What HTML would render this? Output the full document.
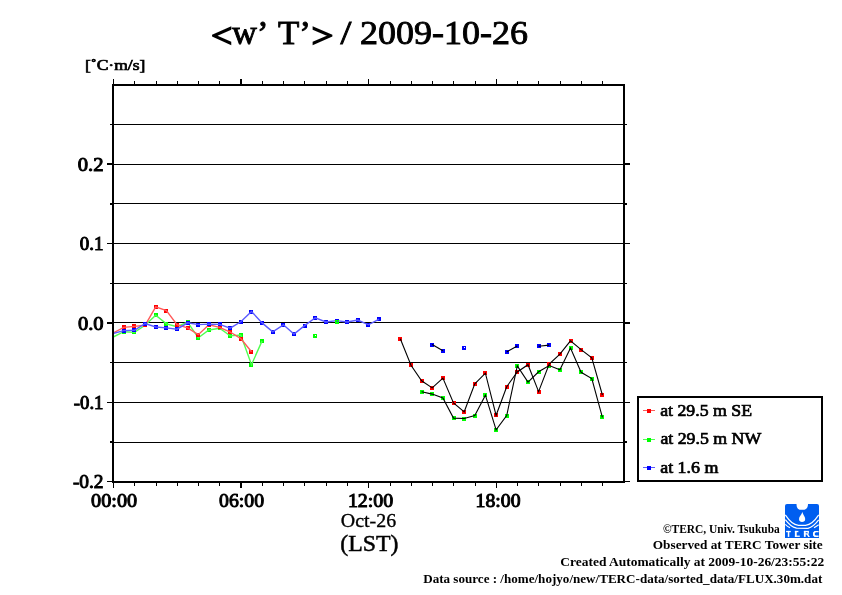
<!DOCTYPE html>
<html><head><meta charset="utf-8"><style>
html,body{margin:0;padding:0;background:#fff;}
svg{display:block;will-change:transform}
</style></head><body>
<svg width="842" height="595" viewBox="0 0 842 595" shape-rendering="crispEdges">
<defs><clipPath id="plot"><rect x="114" y="86" width="509" height="395"/></clipPath></defs>
<rect width="842" height="595" fill="#fff"/>
<rect x="114" y="124" width="509" height="1" fill="#000"/>
<rect x="114" y="164" width="509" height="1" fill="#000"/>
<rect x="114" y="203" width="509" height="1" fill="#000"/>
<rect x="114" y="243" width="509" height="1" fill="#000"/>
<rect x="114" y="283" width="509" height="1" fill="#000"/>
<rect x="114" y="322" width="509" height="1" fill="#000"/>
<rect x="114" y="362" width="509" height="1" fill="#000"/>
<rect x="114" y="402" width="509" height="1" fill="#000"/>
<rect x="114" y="442" width="509" height="1" fill="#000"/>
<rect x="110" y="124" width="2" height="1" fill="#000"/>
<rect x="625" y="124" width="2" height="1" fill="#000"/>
<rect x="107" y="163" width="5" height="2" fill="#000"/>
<rect x="625" y="163" width="5" height="2" fill="#000"/>
<rect x="110" y="203" width="2" height="2" fill="#000"/>
<rect x="625" y="203" width="2" height="2" fill="#000"/>
<rect x="107" y="243" width="5" height="1" fill="#000"/>
<rect x="625" y="243" width="5" height="1" fill="#000"/>
<rect x="110" y="283" width="2" height="1" fill="#000"/>
<rect x="625" y="283" width="2" height="1" fill="#000"/>
<rect x="107" y="322" width="5" height="2" fill="#000"/>
<rect x="625" y="322" width="5" height="2" fill="#000"/>
<rect x="110" y="362" width="2" height="1" fill="#000"/>
<rect x="625" y="362" width="2" height="1" fill="#000"/>
<rect x="107" y="402" width="5" height="1" fill="#000"/>
<rect x="625" y="402" width="5" height="1" fill="#000"/>
<rect x="110" y="441" width="2" height="2" fill="#000"/>
<rect x="625" y="441" width="2" height="2" fill="#000"/>
<rect x="107" y="481" width="5" height="1" fill="#000"/>
<rect x="625" y="481" width="5" height="1" fill="#000"/>
<rect x="113" y="79" width="1" height="5" fill="#000"/>
<rect x="113" y="483" width="1" height="5" fill="#000"/>
<rect x="134" y="81" width="1" height="3" fill="#000"/>
<rect x="134" y="483" width="1" height="3" fill="#000"/>
<rect x="156" y="81" width="1" height="3" fill="#000"/>
<rect x="156" y="483" width="1" height="3" fill="#000"/>
<rect x="177" y="81" width="1" height="3" fill="#000"/>
<rect x="177" y="483" width="1" height="3" fill="#000"/>
<rect x="198" y="81" width="1" height="3" fill="#000"/>
<rect x="198" y="483" width="1" height="3" fill="#000"/>
<rect x="219" y="81" width="1" height="3" fill="#000"/>
<rect x="219" y="483" width="1" height="3" fill="#000"/>
<rect x="240" y="79" width="2" height="5" fill="#000"/>
<rect x="240" y="483" width="2" height="5" fill="#000"/>
<rect x="262" y="81" width="1" height="3" fill="#000"/>
<rect x="262" y="483" width="1" height="3" fill="#000"/>
<rect x="283" y="81" width="1" height="3" fill="#000"/>
<rect x="283" y="483" width="1" height="3" fill="#000"/>
<rect x="304" y="81" width="1" height="3" fill="#000"/>
<rect x="304" y="483" width="1" height="3" fill="#000"/>
<rect x="326" y="81" width="1" height="3" fill="#000"/>
<rect x="326" y="483" width="1" height="3" fill="#000"/>
<rect x="347" y="81" width="1" height="3" fill="#000"/>
<rect x="347" y="483" width="1" height="3" fill="#000"/>
<rect x="368" y="79" width="1" height="5" fill="#000"/>
<rect x="368" y="483" width="1" height="5" fill="#000"/>
<rect x="390" y="81" width="1" height="3" fill="#000"/>
<rect x="390" y="483" width="1" height="3" fill="#000"/>
<rect x="411" y="81" width="1" height="3" fill="#000"/>
<rect x="411" y="483" width="1" height="3" fill="#000"/>
<rect x="432" y="81" width="1" height="3" fill="#000"/>
<rect x="432" y="483" width="1" height="3" fill="#000"/>
<rect x="453" y="81" width="1" height="3" fill="#000"/>
<rect x="453" y="483" width="1" height="3" fill="#000"/>
<rect x="475" y="81" width="1" height="3" fill="#000"/>
<rect x="475" y="483" width="1" height="3" fill="#000"/>
<rect x="496" y="79" width="1" height="5" fill="#000"/>
<rect x="496" y="483" width="1" height="5" fill="#000"/>
<rect x="517" y="81" width="1" height="3" fill="#000"/>
<rect x="517" y="483" width="1" height="3" fill="#000"/>
<rect x="538" y="81" width="1" height="3" fill="#000"/>
<rect x="538" y="483" width="1" height="3" fill="#000"/>
<rect x="560" y="81" width="1" height="3" fill="#000"/>
<rect x="560" y="483" width="1" height="3" fill="#000"/>
<rect x="581" y="81" width="1" height="3" fill="#000"/>
<rect x="581" y="483" width="1" height="3" fill="#000"/>
<rect x="602" y="81" width="1" height="3" fill="#000"/>
<rect x="602" y="483" width="1" height="3" fill="#000"/>
<g shape-rendering="auto">
<g clip-path="url(#plot)">
<rect x="122" y="330" width="4" height="4" fill="#00ff00"/>
<rect x="132" y="330" width="4" height="4" fill="#00ff00"/>
<rect x="143" y="323" width="4" height="4" fill="#00ff00"/>
<rect x="154" y="313" width="4" height="4" fill="#00ff00"/>
<rect x="164" y="322" width="4" height="4" fill="#00ff00"/>
<rect x="175" y="325" width="4" height="4" fill="#00ff00"/>
<rect x="186" y="320" width="4" height="4" fill="#00ff00"/>
<rect x="196" y="336" width="4" height="4" fill="#00ff00"/>
<rect x="207" y="328" width="4" height="4" fill="#00ff00"/>
<rect x="218" y="326" width="4" height="4" fill="#00ff00"/>
<rect x="228" y="334" width="4" height="4" fill="#00ff00"/>
<rect x="239" y="333" width="4" height="4" fill="#00ff00"/>
<rect x="249" y="363" width="4" height="4" fill="#00ff00"/>
<rect x="260" y="339" width="4" height="4" fill="#00ff00"/>
<polyline points="113.2,337.0 123.8,331.7 134.5,332.4 145.1,325.3 155.7,315.3 166.4,323.9 177.0,326.7 187.6,322.1 198.3,337.8 208.9,330.0 219.6,328.2 230.2,335.9 240.8,335.0 251.5,364.7 262.1,340.9" fill="none" stroke="#50ff50" stroke-width="1.4"/>
<rect x="122" y="325" width="4" height="4" fill="#ff0000"/>
<rect x="132" y="324" width="4" height="4" fill="#ff0000"/>
<rect x="143" y="323" width="4" height="4" fill="#ff0000"/>
<rect x="154" y="305" width="4" height="4" fill="#ff0000"/>
<rect x="164" y="309" width="4" height="4" fill="#ff0000"/>
<rect x="175" y="323" width="4" height="4" fill="#ff0000"/>
<rect x="186" y="326" width="4" height="4" fill="#ff0000"/>
<rect x="196" y="333" width="4" height="4" fill="#ff0000"/>
<rect x="207" y="323" width="4" height="4" fill="#ff0000"/>
<rect x="218" y="325" width="4" height="4" fill="#ff0000"/>
<rect x="228" y="330" width="4" height="4" fill="#ff0000"/>
<rect x="239" y="337" width="4" height="4" fill="#ff0000"/>
<rect x="249" y="350" width="4" height="4" fill="#ff0000"/>
<polyline points="113.2,333.0 123.8,327.4 134.5,326.4 145.1,325.3 155.7,306.8 166.4,310.7 177.0,324.6 187.6,327.9 198.3,334.7 208.9,324.7 219.6,327.3 230.2,332.0 240.8,338.6 251.5,351.8" fill="none" stroke="#ff5a5a" stroke-width="1.4"/>
<rect x="122" y="329" width="4" height="4" fill="#0000ff"/>
<rect x="132" y="328" width="4" height="4" fill="#0000ff"/>
<rect x="143" y="322" width="4" height="4" fill="#0000ff"/>
<rect x="154" y="325" width="4" height="4" fill="#0000ff"/>
<rect x="164" y="326" width="4" height="4" fill="#0000ff"/>
<rect x="175" y="327" width="4" height="4" fill="#0000ff"/>
<rect x="186" y="321" width="4" height="4" fill="#0000ff"/>
<rect x="196" y="323" width="4" height="4" fill="#0000ff"/>
<rect x="207" y="322" width="4" height="4" fill="#0000ff"/>
<rect x="218" y="322" width="4" height="4" fill="#0000ff"/>
<rect x="228" y="326" width="4" height="4" fill="#0000ff"/>
<rect x="239" y="320" width="4" height="4" fill="#0000ff"/>
<rect x="249" y="310" width="4" height="4" fill="#0000ff"/>
<rect x="260" y="321" width="4" height="4" fill="#0000ff"/>
<rect x="271" y="330" width="4" height="4" fill="#0000ff"/>
<rect x="281" y="323" width="4" height="4" fill="#0000ff"/>
<rect x="292" y="332" width="4" height="4" fill="#0000ff"/>
<rect x="303" y="324" width="4" height="4" fill="#0000ff"/>
<rect x="313" y="316" width="4" height="4" fill="#0000ff"/>
<rect x="324" y="320" width="4" height="4" fill="#0000ff"/>
<rect x="335" y="319" width="4" height="4" fill="#0000ff"/>
<rect x="345" y="320" width="4" height="4" fill="#0000ff"/>
<rect x="356" y="318" width="4" height="4" fill="#0000ff"/>
<rect x="366" y="323" width="4" height="4" fill="#0000ff"/>
<rect x="377" y="317" width="4" height="4" fill="#0000ff"/>
<polyline points="113.2,333.4 123.8,330.6 134.5,330.3 145.1,323.5 155.7,327.0 166.4,327.9 177.0,329.2 187.6,322.8 198.3,324.6 208.9,324.1 219.6,324.4 230.2,328.2 240.8,321.8 251.5,311.5 262.1,322.9 272.7,331.8 283.4,324.8 294.0,334.0 304.6,325.6 315.3,317.8 325.9,322.0 336.5,320.6 347.2,322.0 357.8,320.0 368.4,324.8 379.1,319.2" fill="none" stroke="#5a5aff" stroke-width="1.4"/>
<path d="M313 334h4v4h-4z M315 335h1v1h-1z" fill="#00ff00" fill-rule="evenodd"/>
<path d="M335 320h4v4h-4z M337 321h1v1h-1z" fill="#00ff00" fill-rule="evenodd"/>
<rect x="420" y="390" width="4" height="4" fill="#00ff00"/>
<rect x="430" y="392" width="4" height="4" fill="#00ff00"/>
<rect x="441" y="396" width="4" height="4" fill="#00ff00"/>
<rect x="452" y="416" width="4" height="4" fill="#00ff00"/>
<rect x="462" y="417" width="4" height="4" fill="#00ff00"/>
<rect x="473" y="414" width="4" height="4" fill="#00ff00"/>
<rect x="483" y="393" width="4" height="4" fill="#00ff00"/>
<rect x="494" y="428" width="4" height="4" fill="#00ff00"/>
<rect x="505" y="414" width="4" height="4" fill="#00ff00"/>
<rect x="515" y="364" width="4" height="4" fill="#00ff00"/>
<rect x="526" y="380" width="4" height="4" fill="#00ff00"/>
<rect x="537" y="370" width="4" height="4" fill="#00ff00"/>
<rect x="547" y="364" width="4" height="4" fill="#00ff00"/>
<rect x="558" y="368" width="4" height="4" fill="#00ff00"/>
<rect x="569" y="346" width="4" height="4" fill="#00ff00"/>
<rect x="579" y="370" width="4" height="4" fill="#00ff00"/>
<rect x="590" y="377" width="4" height="4" fill="#00ff00"/>
<rect x="600" y="415" width="4" height="4" fill="#00ff00"/>
<rect x="398" y="337" width="4" height="4" fill="#ff0000"/>
<rect x="409" y="363" width="4" height="4" fill="#ff0000"/>
<rect x="420" y="379" width="4" height="4" fill="#ff0000"/>
<rect x="430" y="386" width="4" height="4" fill="#ff0000"/>
<rect x="441" y="376" width="4" height="4" fill="#ff0000"/>
<rect x="452" y="401" width="4" height="4" fill="#ff0000"/>
<rect x="462" y="410" width="4" height="4" fill="#ff0000"/>
<rect x="473" y="382" width="4" height="4" fill="#ff0000"/>
<rect x="483" y="371" width="4" height="4" fill="#ff0000"/>
<rect x="494" y="413" width="4" height="4" fill="#ff0000"/>
<rect x="505" y="385" width="4" height="4" fill="#ff0000"/>
<rect x="515" y="370" width="4" height="4" fill="#ff0000"/>
<rect x="526" y="363" width="4" height="4" fill="#ff0000"/>
<rect x="537" y="390" width="4" height="4" fill="#ff0000"/>
<rect x="547" y="362" width="4" height="4" fill="#ff0000"/>
<rect x="558" y="352" width="4" height="4" fill="#ff0000"/>
<rect x="569" y="339" width="4" height="4" fill="#ff0000"/>
<rect x="579" y="348" width="4" height="4" fill="#ff0000"/>
<rect x="590" y="356" width="4" height="4" fill="#ff0000"/>
<rect x="600" y="393" width="4" height="4" fill="#ff0000"/>
<rect x="430" y="343" width="4" height="4" fill="#0000ff"/>
<rect x="441" y="349" width="4" height="4" fill="#0000ff"/>
<path d="M462 346h4v4h-4z M464 347h1v1h-1z" fill="#0000ff" fill-rule="evenodd"/>
<rect x="505" y="350" width="4" height="4" fill="#0000ff"/>
<rect x="515" y="344" width="4" height="4" fill="#0000ff"/>
<rect x="537" y="344" width="4" height="4" fill="#0000ff"/>
<rect x="547" y="343" width="4" height="4" fill="#0000ff"/>
<polyline points="400.3,338.8 411.0,365.3 421.6,380.8 432.2,387.9 442.9,378.1 453.5,403.0 464.2,411.8 474.8,383.8 485.4,373.2 496.1,415.3 506.7,386.7 517.3,372.0 528.0,364.7 538.6,391.6 549.2,364.0 559.9,354.2 570.5,340.9 581.1,349.6 591.8,357.9 602.4,395.0" fill="none" stroke="#000" stroke-width="1.1"/>
<polyline points="421.6,391.8 432.2,394.1 442.9,398.0 453.5,418.1 464.2,418.5 474.8,415.6 485.4,395.2 496.1,429.8 506.7,415.5 517.3,366.0 528.0,382.1 538.6,371.8 549.2,365.5 559.9,369.8 570.5,348.1 581.1,372.3 591.8,378.6 602.4,417.3" fill="none" stroke="#000" stroke-width="1.1"/>
<polyline points="432.2,344.5 442.9,350.7" fill="none" stroke="#000" stroke-width="1.1"/>
<polyline points="506.7,351.9 517.3,345.9" fill="none" stroke="#000" stroke-width="1.1"/>
<polyline points="538.6,346.3 549.2,345.1" fill="none" stroke="#000" stroke-width="1.1"/>
</g>
</g>
<rect x="112" y="84" width="513" height="2" fill="#000"/>
<rect x="112" y="481" width="513" height="2" fill="#000"/>
<rect x="112" y="84" width="2" height="399" fill="#000"/>
<rect x="623" y="84" width="2" height="399" fill="#000"/>
<g shape-rendering="auto">
<text x="211.00" y="47.30" font-family="Liberation Serif, serif" font-size="34.00" font-weight="normal" textLength="21.29" lengthAdjust="spacingAndGlyphs" stroke="#000" stroke-width="1.5">&lt;</text>
<text x="232.00" y="44.20" font-family="Liberation Serif, serif" font-size="34.00" font-weight="normal" textLength="36.38" lengthAdjust="spacingAndGlyphs" stroke="#000" stroke-width="0.9">w&#8217;</text>
<text x="278.00" y="44.20" font-family="Liberation Serif, serif" font-size="34.00" font-weight="normal" textLength="32.96" lengthAdjust="spacingAndGlyphs" stroke="#000" stroke-width="0.9">T&#8217;</text>
<text x="311.50" y="47.30" font-family="Liberation Serif, serif" font-size="34.00" font-weight="normal" textLength="21.90" lengthAdjust="spacingAndGlyphs" stroke="#000" stroke-width="1.5">&gt;</text>
<text x="340.50" y="44.20" font-family="Liberation Serif, serif" font-size="34.00" font-weight="normal" textLength="10.86" lengthAdjust="spacingAndGlyphs" stroke="#000" stroke-width="0.9">/</text>
<text x="360.00" y="44.20" font-family="Liberation Serif, serif" font-size="34.00" font-weight="normal" textLength="168.06" lengthAdjust="spacingAndGlyphs" stroke="#000" stroke-width="0.9">2009-10-26</text>
<text x="85.00" y="70.00" font-family="Liberation Serif, serif" font-size="15.00" font-weight="normal" textLength="60.36" lengthAdjust="spacingAndGlyphs" stroke="#000" stroke-width="0.7">[&#730;C&#183;m/s]</text>
<text x="77.80" y="170.70" font-family="Liberation Serif, serif" font-size="18.30" font-weight="normal" textLength="25.79" lengthAdjust="spacingAndGlyphs" stroke="#000" stroke-width="0.95">0.2</text>
<text x="79.80" y="249.80" font-family="Liberation Serif, serif" font-size="18.30" font-weight="normal" textLength="23.70" lengthAdjust="spacingAndGlyphs" stroke="#000" stroke-width="0.95">0.1</text>
<text x="77.90" y="329.60" font-family="Liberation Serif, serif" font-size="18.30" font-weight="normal" textLength="25.71" lengthAdjust="spacingAndGlyphs" stroke="#000" stroke-width="0.95">0.0</text>
<text x="73.80" y="408.60" font-family="Liberation Serif, serif" font-size="18.30" font-weight="normal" textLength="29.65" lengthAdjust="spacingAndGlyphs" stroke="#000" stroke-width="0.95">-0.1</text>
<text x="72.90" y="487.60" font-family="Liberation Serif, serif" font-size="18.30" font-weight="normal" textLength="30.67" lengthAdjust="spacingAndGlyphs" stroke="#000" stroke-width="0.95">-0.2</text>
<text x="91.10" y="506.60" font-family="Liberation Serif, serif" font-size="18.30" font-weight="normal" textLength="46.00" lengthAdjust="spacingAndGlyphs" stroke="#000" stroke-width="0.95">00:00</text>
<text x="219.10" y="506.60" font-family="Liberation Serif, serif" font-size="18.30" font-weight="normal" textLength="45.01" lengthAdjust="spacingAndGlyphs" stroke="#000" stroke-width="0.95">06:00</text>
<text x="347.90" y="506.60" font-family="Liberation Serif, serif" font-size="18.30" font-weight="normal" textLength="45.41" lengthAdjust="spacingAndGlyphs" stroke="#000" stroke-width="0.95">12:00</text>
<text x="475.60" y="506.60" font-family="Liberation Serif, serif" font-size="18.30" font-weight="normal" textLength="44.93" lengthAdjust="spacingAndGlyphs" stroke="#000" stroke-width="0.95">18:00</text>
<text x="340.80" y="526.50" font-family="Liberation Serif, serif" font-size="19.00" font-weight="normal" textLength="55.31" lengthAdjust="spacingAndGlyphs" stroke="#000" stroke-width="0.35">Oct-26</text>
<text x="340.30" y="550.90" font-family="Liberation Serif, serif" font-size="24.00" font-weight="normal" textLength="58.12" lengthAdjust="spacingAndGlyphs" stroke="#000" stroke-width="0.5">(LST)</text>
<text x="660.20" y="415.60" font-family="Liberation Serif, serif" font-size="17.00" font-weight="normal" textLength="91.91" lengthAdjust="spacingAndGlyphs" stroke="#000" stroke-width="0.7">at 29.5 m SE</text>
<text x="660.40" y="444.00" font-family="Liberation Serif, serif" font-size="17.00" font-weight="normal" textLength="100.81" lengthAdjust="spacingAndGlyphs" stroke="#000" stroke-width="0.7">at 29.5 m NW</text>
<text x="660.20" y="473.00" font-family="Liberation Serif, serif" font-size="17.00" font-weight="normal" textLength="58.32" lengthAdjust="spacingAndGlyphs" stroke="#000" stroke-width="0.7">at 1.6 m</text>
<text x="663.00" y="532.70" font-family="Liberation Serif, serif" font-size="12.00" font-weight="bold" textLength="116.77" lengthAdjust="spacingAndGlyphs">&#169;TERC, Univ. Tsukuba</text>
<text x="652.80" y="548.70" font-family="Liberation Serif, serif" font-size="12.00" font-weight="bold" textLength="169.85" lengthAdjust="spacingAndGlyphs">Observed at TERC Tower site</text>
<text x="560.30" y="566.00" font-family="Liberation Serif, serif" font-size="12.00" font-weight="bold" textLength="263.85" lengthAdjust="spacingAndGlyphs">Created Automatically at 2009-10-26/23:55:22</text>
<text x="423.20" y="583.00" font-family="Liberation Serif, serif" font-size="12.00" font-weight="bold" textLength="399.12" lengthAdjust="spacingAndGlyphs">Data source : /home/hojyo/new/TERC-data/sorted_data/FLUX.30m.dat</text>

<rect x="638" y="397" width="184" height="84" fill="none" stroke="#000" stroke-width="2"/>
<rect x="643" y="410" width="12" height="1" fill="#ff5a5a"/>
<rect x="647" y="409" width="4" height="4" fill="#ff0000"/>
<rect x="643" y="439" width="12" height="1" fill="#50ff50"/>
<rect x="647" y="438" width="4" height="4" fill="#00ff00"/>
<rect x="643" y="467" width="12" height="1" fill="#5a5aff"/>
<rect x="647" y="466" width="4" height="4" fill="#0000ff"/>



<g transform="translate(785,504)" shape-rendering="auto">
<path d="M2 0 H32 Q34 0 34 2 V34 H0 V2 Q0 0 2 0 Z" fill="#005ef0"/>
<path d="M11.5 -0.5 C11.5 4, 13 5.8, 15.5 5.8 L18.5 5.8 C21 5.8, 23 4, 23 -0.5 Z" fill="#fff"/>
<path d="M17.4 8 C16.5 11, 14 12.5, 14 15 C14 17.2, 15.5 18, 17 18 C18.8 18, 20.2 17.2, 20.2 15 C20.2 12.5, 18 11, 17.4 8 Z" fill="#fff"/>
<g fill="none" stroke="#fff" stroke-width="1.2">
<path d="M0.3 10.8 C4 16.5, 8.5 20.8, 13.5 21.3 L20.5 21.3 C25.5 20.8, 30 16.5, 33.7 10.8"/>
<path d="M0.3 15.6 C3.5 20, 7.5 23.2, 11.5 24.2 L23 24.3 C27 23.2, 30.5 20, 33.7 15.8"/>
<path d="M0.3 20.3 C2 22, 3.5 23, 5 23.8"/>
<path d="M33.7 20.8 C32 22, 30.5 23, 29 23.8"/>
</g>
<g fill="#fff">
<rect x="1.1" y="26.9" width="4.7" height="1.3"/><rect x="2.8" y="26.9" width="1.5" height="6"/>
<rect x="9.9" y="26.9" width="1.8" height="6"/><rect x="9.9" y="26.9" width="3.5" height="1.3"/><rect x="9.9" y="31.6" width="4.9" height="1.3"/>
<rect x="18.9" y="26.9" width="1.8" height="6"/><rect x="18.9" y="26.9" width="4.5" height="1.3"/><rect x="22.6" y="26.9" width="1.3" height="2.8"/><rect x="18.9" y="29.3" width="4.2" height="1.2"/>
<path d="M21.5 30 L23.2 30 L24.9 32.9 L23.2 32.9 Z"/>
<path d="M29.5 26.9 H33.6 V28.2 H30.8 L29.8 29.2 V30.8 L30.8 31.6 H33.6 V32.9 H29.5 L28 31.4 V28.4 Z"/>
</g>
</g>

</g>
</svg>
</body></html>
